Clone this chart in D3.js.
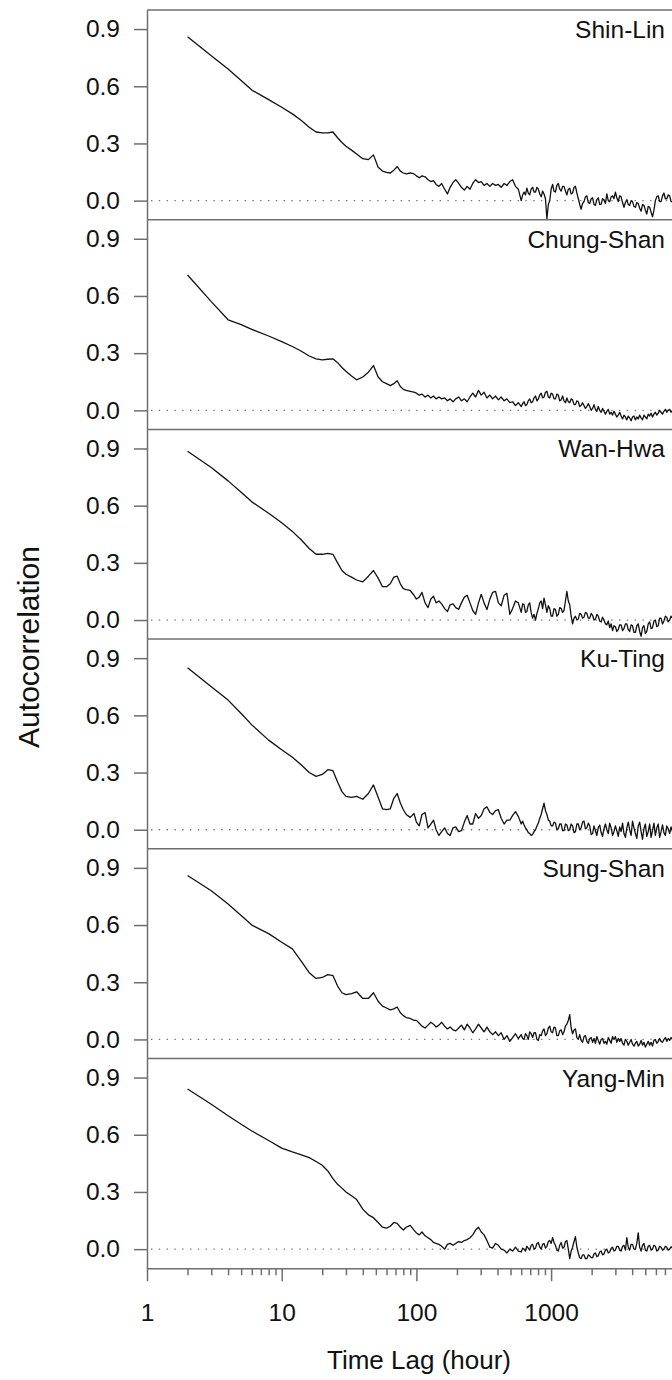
<!DOCTYPE html>
<html>
<head>
<meta charset="utf-8">
<script src="https://cdn.jsdelivr.net/npm/d3@7"></script>
<style>
  html, body { margin: 0; padding: 0; background: #fff; }
  svg { display: block; font-family: Arial, "Liberation Sans", sans-serif; }
</style>
</head>
<body>
<svg id="chart" width="672" height="1380"></svg>
<script>
// ---------------- DATA ----------------
const stations = ["Shin-Lin", "Chung-Shan", "Wan-Hwa", "Ku-Ting", "Sung-Shan", "Yang-Min"];

// time lags (hours)
const lags = [
  2,3,4,5,6,8,10,12,14,16,18,20,22,24,26,28,30,33,36,40,44,48,52,56,60,64,68,72,76,80,84,90,96,
  100,105,110,116,122,128,134,140,147,154,
  162,170,178,187,196,206,216,227,238,250,
  262,275,289,303,318,334,351,368,387,406,
  426,448,470,494,518,544,571,
  600,615,630,645,661,677,694,711,729,747,
  766,785,804,824,844,865,886,908,931,954,
  977,1001,1026,1051,1077,1104,1131,1159,1188,1217,
  1247,1278,1310,1342,1375,1409,1444,1480,1516,1554,
  1592,1631,1671,1712,1755,1798,1843,1888,1935,1983,
  2032,2082,2133,2186,2240,2295,2352,2410,2470,2531,
  2593,2657,2723,2790,2859,2930,3002,3076,3152,3230,
  3310,3392,3475,3561,3649,3739,3831,3926,4023,4122,
  4224,4328,4435,4545,4657,4772,4890,5011,5134,5261,
  5391,5524,5661,5801,5944,6091,6241,6395,6553,6715,
  6881,7051,7225,7403,7586,7773,7965,8162,8364,8570,
  8760
];

const shinLin = [
  0.86,0.76,0.69,0.63,0.58,0.53,0.49,0.455,0.42,0.385,0.36,0.355,0.355,0.36,0.33,0.305,0.285,0.265,0.245,0.22,0.215,0.24,0.175,0.155,0.148,0.145,0.16,0.178,0.155,0.145,0.14,0.145,0.14,
  0.13,0.12,0.13,0.125,0.11,0.10,0.105,0.085,0.075,0.09,
  0.06,0.035,0.07,0.095,0.11,0.09,0.07,0.055,0.075,0.06,
  0.09,0.11,0.095,0.10,0.08,0.09,0.075,0.09,0.08,0.085,
  0.07,0.09,0.08,0.10,0.11,0.075,0.06,
  0.0,0.03,0.045,0.03,0.065,0.04,0.03,0.06,0.07,0.045,
  0.045,0.07,0.06,0.035,0.02,0.05,0.035,0.01,-0.095,-0.02,
  0.0,0.06,0.085,0.05,0.045,0.08,0.09,0.06,0.05,0.075,
  0.075,0.05,0.03,0.06,0.065,0.035,0.04,0.07,0.075,0.04,
  0.01,-0.02,-0.045,-0.015,-0.005,0.02,0.025,-0.01,-0.015,0.01,
  0.015,-0.02,-0.025,0.005,0.015,-0.02,-0.02,0.01,0.005,-0.015,
  0.035,0.0,-0.005,0.02,0.025,0.01,0.045,0.015,-0.005,0.025,
  0.02,-0.01,-0.035,-0.01,0.005,-0.02,-0.025,0.0,-0.005,-0.03,
  -0.035,-0.01,-0.015,-0.04,-0.055,-0.02,-0.025,-0.05,-0.07,-0.03,
  -0.035,-0.06,-0.085,-0.05,0.0,0.02,0.025,-0.005,-0.005,0.025,
  0.04,0.01,0.01,0.03,0.025,-0.005,-0.005,0.015,0.015,-0.005,
  0.0
];

const chungShan = [
  0.71,0.57,0.475,0.45,0.425,0.39,0.36,0.335,0.31,0.285,0.27,0.265,0.268,0.27,0.25,0.225,0.205,0.18,0.16,0.175,0.2,0.235,0.175,0.15,0.14,0.13,0.14,0.155,0.125,0.11,0.105,0.1,0.095,
  0.09,0.08,0.085,0.07,0.08,0.065,0.075,0.06,0.07,0.06,
  0.065,0.05,0.06,0.045,0.06,0.07,0.05,0.06,0.045,0.07,
  0.09,0.07,0.105,0.08,0.095,0.065,0.08,0.06,0.075,0.055,
  0.07,0.05,0.06,0.04,0.045,0.025,0.04,
  0.02,0.035,0.045,0.025,0.03,0.05,0.06,0.04,0.045,0.065,
  0.075,0.05,0.06,0.08,0.09,0.065,0.07,0.095,0.1,0.07,
  0.065,0.09,0.085,0.06,0.06,0.085,0.08,0.05,0.055,0.075,
  0.05,0.04,0.065,0.045,0.04,0.06,0.055,0.03,0.03,0.05,
  0.045,0.02,0.025,0.04,0.025,0.01,0.02,0.035,0.02,0.0,
  0.01,0.03,0.005,-0.005,0.02,0.0,-0.01,0.01,-0.005,-0.02,
  -0.005,0.005,-0.02,-0.01,-0.025,-0.005,-0.02,-0.035,-0.025,-0.01,
  -0.03,-0.045,-0.025,-0.035,-0.05,-0.03,-0.04,-0.055,-0.035,-0.03,
  -0.05,-0.035,-0.045,-0.025,-0.04,-0.05,-0.025,-0.035,-0.045,-0.02,
  -0.03,-0.015,-0.035,-0.02,-0.01,-0.025,-0.015,0.0,-0.01,-0.02,
  -0.005,0.005,-0.01,0.0,0.005,-0.01,0.0,0.01,-0.005,0.0,
  0.0
];

const wanHwa = [
  0.885,0.80,0.73,0.67,0.62,0.56,0.51,0.465,0.42,0.375,0.345,0.345,0.35,0.345,0.3,0.26,0.24,0.225,0.21,0.2,0.23,0.26,0.22,0.175,0.175,0.19,0.225,0.23,0.19,0.165,0.16,0.155,0.13,
  0.11,0.12,0.145,0.09,0.065,0.11,0.125,0.09,0.1,0.085,
  0.06,0.045,0.08,0.085,0.065,0.056,0.09,0.12,0.13,0.09,
  0.05,0.03,0.09,0.135,0.09,0.055,0.11,0.145,0.15,0.09,
  0.075,0.13,0.14,0.03,0.06,0.1,0.09,
  0.04,0.085,0.08,0.04,0.045,0.08,0.09,0.04,0.01,0.03,
  0.0,0.035,0.06,0.09,0.1,0.06,0.115,0.08,0.04,0.075,
  0.06,0.02,0.02,0.06,0.055,0.02,0.03,0.065,0.06,0.04,
  0.05,0.1,0.15,0.1,0.08,0.02,-0.02,0.01,0.02,0.0,
  0.005,0.035,0.03,0.01,0.015,0.04,0.035,0.01,0.01,0.035,
  0.025,0.0,0.005,0.03,0.02,-0.005,-0.01,0.015,0.0,-0.02,
  -0.025,-0.005,-0.04,-0.02,-0.055,-0.03,-0.035,-0.06,-0.05,-0.025,
  -0.025,-0.055,-0.045,-0.02,-0.02,-0.05,-0.06,-0.025,-0.03,-0.065,
  -0.065,-0.03,-0.02,-0.06,-0.085,-0.04,-0.03,-0.07,-0.06,-0.02,
  -0.01,-0.045,-0.04,-0.005,0.0,-0.035,-0.03,0.01,0.01,-0.02,
  -0.005,0.02,0.015,-0.01,0.0,0.02,0.01,-0.005,0.005,0.015,
  0.01
];

const kuTing = [
  0.85,0.75,0.68,0.61,0.55,0.47,0.42,0.38,0.34,0.3,0.28,0.29,0.315,0.31,0.25,0.2,0.175,0.17,0.175,0.16,0.19,0.235,0.17,0.11,0.105,0.11,0.165,0.19,0.14,0.105,0.08,0.065,0.085,
  0.04,0.02,0.08,0.09,0.01,0.03,0.05,0.0,-0.03,-0.01,
  0.01,-0.02,-0.03,0.01,0.015,-0.01,-0.005,0.04,0.075,0.03,
  0.03,0.085,0.06,0.075,0.11,0.12,0.09,0.08,0.1,0.105,
  0.06,0.03,0.05,0.05,0.075,0.095,0.07,
  0.03,0.045,0.025,0.01,0.0,-0.015,-0.02,-0.03,-0.025,-0.01,
  0.0,0.02,0.035,0.06,0.08,0.11,0.14,0.1,0.08,0.05,
  0.045,0.02,0.02,0.04,0.035,0.0,0.005,0.03,0.03,-0.005,
  -0.005,0.03,0.025,-0.005,0.0,0.03,0.02,-0.015,-0.01,0.03,
  0.03,0.0,0.01,0.04,0.045,0.005,0.01,0.035,0.02,-0.025,
  -0.02,0.02,-0.005,-0.03,0.01,0.025,-0.015,-0.035,0.005,0.03,
  0.0,-0.02,0.035,0.01,-0.03,-0.01,0.02,-0.005,-0.035,0.015,
  -0.01,0.035,-0.02,-0.04,0.01,0.04,0.0,-0.03,0.045,0.01,
  -0.02,-0.045,0.02,0.04,-0.01,-0.05,0.005,0.03,-0.035,-0.01,
  0.03,-0.04,-0.005,0.035,-0.03,0.01,0.03,-0.04,-0.01,0.025,
  -0.015,-0.03,0.02,0.005,-0.02,0.015,-0.01,0.01,-0.015,0.005,
  0.0
];

const sungShan = [
  0.86,0.78,0.71,0.65,0.60,0.555,0.51,0.475,0.41,0.35,0.32,0.325,0.34,0.335,0.28,0.245,0.235,0.24,0.25,0.215,0.215,0.245,0.2,0.175,0.165,0.155,0.16,0.17,0.14,0.125,0.115,0.11,0.1,
  0.1,0.085,0.07,0.06,0.075,0.09,0.08,0.065,0.075,0.09,
  0.07,0.055,0.065,0.05,0.045,0.06,0.075,0.05,0.08,0.06,
  0.035,0.055,0.08,0.06,0.04,0.065,0.04,0.025,0.04,0.02,
  0.035,0.0,0.02,-0.01,0.01,0.03,0.005,
  0.025,0.005,0.0,0.03,0.02,0.0,0.04,0.03,0.01,0.035,
  0.035,0.0,-0.005,0.025,0.02,0.045,0.055,0.02,0.03,0.06,
  0.07,0.04,0.035,0.065,0.06,0.02,0.02,0.045,0.05,0.025,
  0.04,0.07,0.08,0.1,0.13,0.06,0.03,0.05,0.055,0.01,
  0.0,0.025,-0.005,-0.015,0.015,0.02,-0.01,-0.02,0.005,0.01,
  -0.015,0.005,-0.02,0.015,-0.005,-0.025,0.0,0.005,-0.02,-0.01,
  -0.025,0.01,-0.005,-0.02,0.015,0.0,0.015,-0.015,0.005,-0.01,
  0.005,-0.02,-0.03,0.0,-0.01,-0.03,-0.015,0.0,-0.025,-0.035,
  -0.02,-0.01,-0.035,-0.025,-0.005,-0.03,-0.015,-0.04,-0.025,-0.01,
  -0.03,-0.015,-0.035,-0.005,0.0,-0.02,-0.01,0.005,-0.01,-0.015,
  0.0,0.01,-0.01,0.005,-0.005,0.01,0.0,-0.005,0.01,0.005,
  0.005
];

const yangMin = [
  0.84,0.76,0.70,0.655,0.62,0.57,0.53,0.51,0.495,0.48,0.46,0.44,0.41,0.37,0.34,0.32,0.30,0.28,0.26,0.21,0.18,0.165,0.14,0.115,0.11,0.12,0.14,0.135,0.115,0.10,0.115,0.125,0.10,
  0.085,0.075,0.09,0.07,0.06,0.05,0.035,0.03,0.025,0.015,
  0.0,0.025,0.03,0.02,0.03,0.04,0.035,0.045,0.05,0.06,
  0.075,0.1,0.115,0.09,0.075,0.045,0.01,0.005,0.03,0.02,
  0.0,-0.005,-0.02,0.0,-0.01,0.01,-0.01,
  -0.015,0.005,0.0,-0.01,0.015,0.005,-0.005,0.02,0.025,0.0,
  0.005,0.03,0.035,0.01,0.0,0.025,0.03,0.005,0.015,0.04,
  0.045,0.03,0.06,0.035,0.02,-0.005,-0.01,0.02,0.035,0.005,
  0.01,0.04,0.045,0.0,-0.05,-0.01,0.01,0.04,0.065,0.01,
  -0.02,-0.045,-0.05,-0.03,-0.03,-0.05,-0.05,-0.03,-0.035,-0.045,
  -0.045,-0.025,-0.02,-0.04,-0.035,-0.015,-0.01,-0.03,-0.025,-0.005,
  0.0,-0.02,-0.015,0.005,0.01,-0.01,-0.005,0.015,0.015,-0.005,
  -0.01,0.015,0.02,-0.005,0.06,0.01,-0.005,0.025,0.025,0.0,
  0.0,0.03,0.085,0.01,-0.01,0.02,0.03,-0.005,-0.01,0.015,
  0.02,-0.005,0.0,0.02,0.015,-0.01,-0.005,0.015,0.01,-0.005,
  0.0,0.015,0.01,-0.005,0.0,0.012,0.005,-0.005,0.0,0.01,
  0.005
];

const seriesValues = [shinLin, chungShan, wanHwa, kuTing, sungShan, yangMin];

const yTickValues = [0, 0.3, 0.6, 0.9];
const xMajorTicks = [1, 10, 100, 1000, 10000];
const xLabelTicks = [1, 10, 100, 1000];
const xTitle = "Time Lag (hour)";
const yTitle = "Autocorrelation";

// ---------------- LAYOUT ----------------
const W = 672, H = 1380;
const plotLeft = 147, plotTop = 10;
const decade = 134.7;
const panelH = 209.7;
const nP = stations.length;
const plotBottom = plotTop + nP * panelH;
const axisColor = "#6e6e6e";
const fontFam = "Arial, 'Liberation Sans', sans-serif";

const svg = d3.select("#chart");

const x = d3.scaleLog().domain([1, 10000]).range([plotLeft, plotLeft + 4 * decade]);

const minorTicks = [];
for (let p = 0; p < 4; p++) for (let k = 2; k <= 9; k++) minorTicks.push(k * Math.pow(10, p));

const makeLine = (y) => d3.line().x(d => x(d[0])).y(d => y(d[1])).curve(d3.curveLinear);

stations.forEach((name, i) => {
  const pTop = plotTop + i * panelH;
  const y = d3.scaleLinear().domain([-0.1, 1.0]).range([pTop + panelH, pTop]);
  const g = svg.append("g");

  const cid = "clip" + i;
  svg.append("clipPath").attr("id", cid).append("rect")
    .attr("x", plotLeft).attr("y", pTop).attr("width", W - plotLeft).attr("height", panelH);

  // zero dotted line
  g.append("line")
    .attr("x1", plotLeft + 4).attr("x2", W)
    .attr("y1", y(0)).attr("y2", y(0))
    .attr("stroke", "#777").attr("stroke-width", 1.3)
    .attr("stroke-dasharray", "1.4,6.4");

  // series
  const data = d3.zip(lags, seriesValues[i]);
  g.append("path")
    .datum(data)
    .attr("clip-path", `url(#${cid})`)
    .attr("fill", "none")
    .attr("stroke", "#111")
    .attr("stroke-width", 1.3)
    .attr("stroke-linejoin", "round")
    .attr("d", makeLine(y));

  // top border of panel
  g.append("line")
    .attr("x1", plotLeft).attr("x2", W)
    .attr("y1", pTop).attr("y2", pTop)
    .attr("stroke", axisColor).attr("stroke-width", 1.5);

  // y axis
  const ya = g.append("g")
    .attr("transform", `translate(${plotLeft},0)`)
    .call(d3.axisLeft(y).tickValues(yTickValues).tickFormat(d3.format(".1f"))
      .tickSize(13).tickSizeOuter(0).tickPadding(14));
  ya.select(".domain").attr("stroke", axisColor).attr("stroke-width", 1.5);
  ya.selectAll(".tick line").attr("stroke", axisColor).attr("stroke-width", 1.5);
  ya.selectAll(".tick text").attr("font-size", 24.5).attr("fill", "#111")
    .attr("font-family", fontFam);

  // station label
  g.append("text")
    .attr("x", 665).attr("y", pTop + 28)
    .attr("text-anchor", "end")
    .attr("font-size", 24.5)
    .attr("font-family", fontFam)
    .attr("fill", "#111")
    .text(name);
});

// bottom axis
const xaMinor = svg.append("g")
  .attr("transform", `translate(0,${plotBottom})`)
  .call(d3.axisBottom(x).tickValues(minorTicks).tickFormat("").tickSize(7).tickSizeOuter(0));
xaMinor.select(".domain").remove();
xaMinor.selectAll(".tick line").attr("stroke", axisColor).attr("stroke-width", 1.5);

const xa = svg.append("g")
  .attr("transform", `translate(0,${plotBottom})`)
  .call(d3.axisBottom(x).tickValues(xMajorTicks)
    .tickFormat(d => xLabelTicks.includes(d) ? String(d) : "")
    .tickSize(13).tickSizeOuter(0).tickPadding(22));
xa.select(".domain").attr("stroke", axisColor).attr("stroke-width", 1.5);
xa.selectAll(".tick line").attr("stroke", axisColor).attr("stroke-width", 1.5);
xa.selectAll(".tick text").attr("font-size", 24.5).attr("fill", "#111")
  .attr("font-family", fontFam);

// axis titles
svg.append("text")
  .attr("x", 419).attr("y", 1369)
  .attr("text-anchor", "middle")
  .attr("font-size", 26)
  .attr("font-family", fontFam)
  .attr("fill", "#111")
  .text(xTitle);

svg.append("text")
  .attr("transform", `translate(39,647) rotate(-90)`)
  .attr("text-anchor", "middle")
  .attr("font-size", 30)
  .attr("font-family", fontFam)
  .attr("fill", "#111")
  .text(yTitle);
</script>
</body>
</html>
